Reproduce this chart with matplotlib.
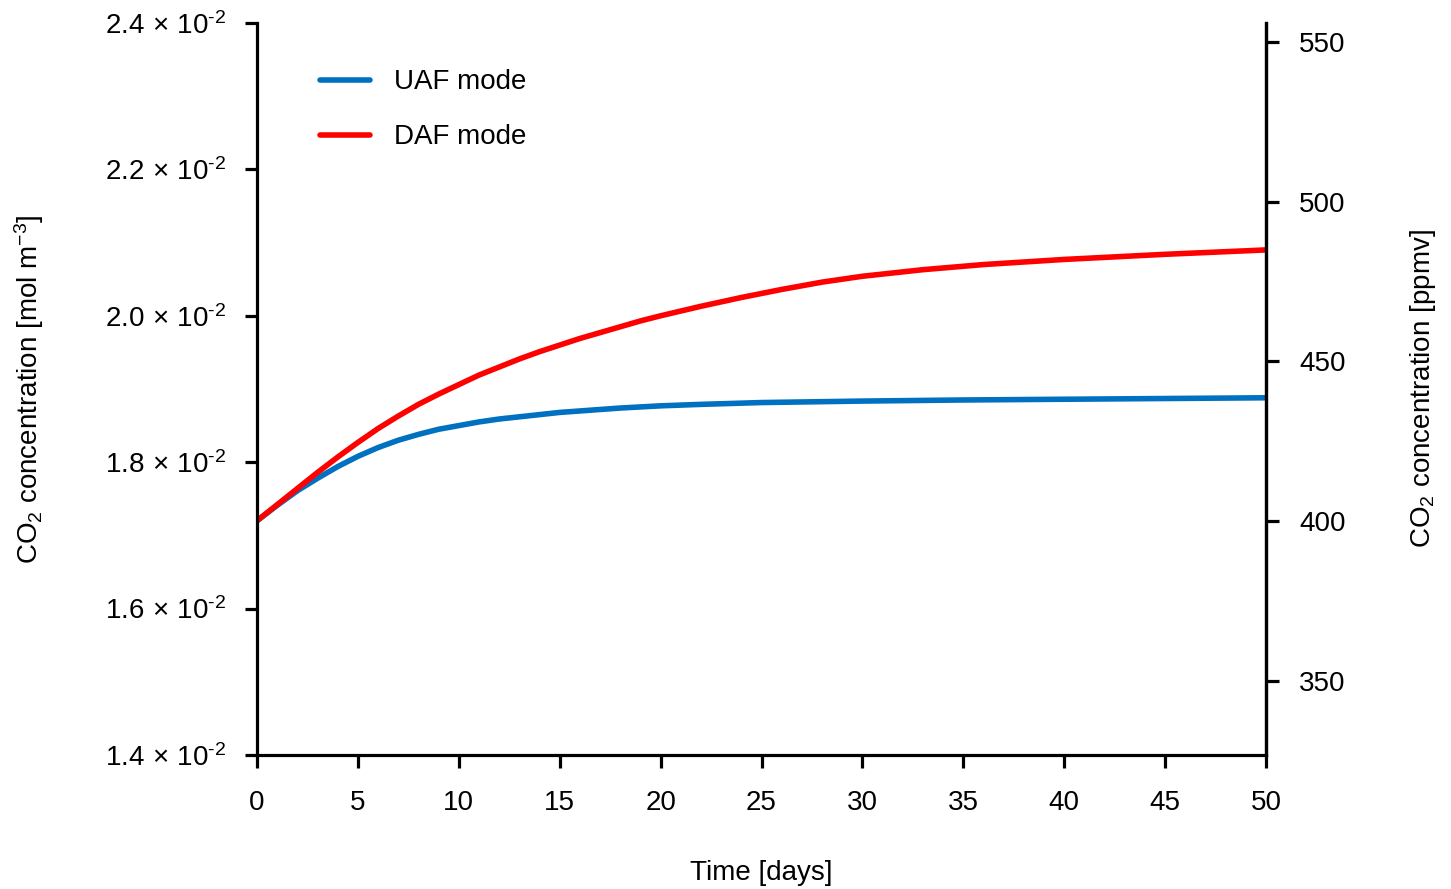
import matplotlib
matplotlib.use("Agg")
import matplotlib.pyplot as plt
import numpy as np

plt.rcParams['font.family'] = ['Liberation Sans', 'DejaVu Sans']
plt.rcParams['mathtext.fontset'] = 'custom'
plt.rcParams['mathtext.rm'] = 'Liberation Sans'
plt.rcParams['mathtext.it'] = 'Liberation Sans'
plt.rcParams['mathtext.default'] = 'regular'

# Data (CO2 concentration in units of 1e-2 mol m^-3)
days_uaf = [0, 1, 2, 3, 4, 5, 6, 7, 8, 9, 10, 11, 12, 13, 14, 15, 16, 17, 18, 19, 20,
            22, 25, 30, 35, 40, 45, 50]
uaf = [1.720, 1.741, 1.761, 1.778, 1.794, 1.808, 1.820, 1.830, 1.838, 1.845, 1.850,
       1.855, 1.859, 1.862, 1.865, 1.868, 1.870, 1.872, 1.874, 1.8755, 1.877,
       1.879, 1.8815, 1.8835, 1.885, 1.886, 1.887, 1.888]
days_daf = [0, 1, 2, 3, 4, 5, 6, 7, 8, 9, 10, 11, 12, 13, 14, 15, 16, 17, 18, 19, 20,
            22, 24, 26, 28, 30, 33, 36, 40, 45, 50]
daf = [1.720, 1.742, 1.764, 1.786, 1.807, 1.827, 1.846, 1.863, 1.879, 1.893, 1.906,
       1.919, 1.930, 1.941, 1.951, 1.960, 1.969, 1.977, 1.985, 1.993, 2.000,
       2.013, 2.025, 2.036, 2.046, 2.054, 2.063, 2.070, 2.077, 2.084, 2.090]

left_ticks = [1.4, 1.6, 1.8, 2.0, 2.2, 2.4]
right_ticks = [350, 400, 450, 500, 550]
x_ticks = [0, 5, 10, 15, 20, 25, 30, 35, 40, 45, 50]

FS = 20
fig = plt.figure(figsize=(14.51, 8.89), dpi=100)
ax = fig.add_axes([257/1451, 1-755/889, (1266-257)/1451, (755-23)/889])

ax.plot(np.array(days_uaf), np.array(uaf) * 1e-2, color='#0070C0', lw=4.0,
        label='UAF mode', solid_capstyle='round', solid_joinstyle='round')
ax.plot(np.array(days_daf), np.array(daf) * 1e-2, color='#FF0000', lw=4.0,
        label='DAF mode', solid_capstyle='round', solid_joinstyle='round')

ax.set_xlim(0, 50)
ax.set_ylim(1.4e-2, 2.4e-2)
ax.set_xticks(x_ticks)
ax.set_xticklabels([str(t) for t in x_ticks])
ax.set_yticks([v * 1e-2 for v in left_ticks])
ax.set_yticklabels([r'$%.1f\,\times\,10^{\text{-}2}$' % v for v in left_ticks])

for s in ['left', 'bottom', 'right']:
    ax.spines[s].set_linewidth(2.3)
ax.spines['top'].set_visible(False)
ax.tick_params(axis='y', direction='out', length=9, width=2.3, labelsize=FS, pad=13)
ax.tick_params(axis='x', direction='out', length=9, width=2.3, labelsize=FS, pad=16)

ax.set_xlabel('Time [days]', fontsize=FS)
ax.xaxis.set_label_coords(0.5, (755 - 860) / 732)
ax.set_ylabel(r'CO$_2$ concentration [mol m$^{-3}$]', fontsize=FS)
ax.yaxis.set_label_coords((46 - 257) / 1009, 0.5)

ax2 = ax.twinx()
ax2.set_ylim(326.7, 555.95)
ax2.set_yticks(right_ticks)
ax2.set_yticklabels([str(t) for t in right_ticks])
ax2.spines['top'].set_visible(False)
ax2.spines['left'].set_visible(False)
ax2.spines['bottom'].set_visible(False)
ax2.spines['right'].set_linewidth(2.3)
ax2.tick_params(axis='y', direction='out', length=9, width=2.3, labelsize=FS, pad=15)
ax2.set_ylabel(r'CO$_2$ concentration [ppmv]', fontsize=FS)
ax2.yaxis.set_label_coords((1408 - 257) / 1009, 0.5)

leg = ax.legend(loc='upper left', bbox_to_anchor=(0.038, 0.971), frameon=False,
                fontsize=FS, handlelength=1.8, handletextpad=0.85, labelspacing=1.05)

fig.savefig('out.png', dpi=100)
